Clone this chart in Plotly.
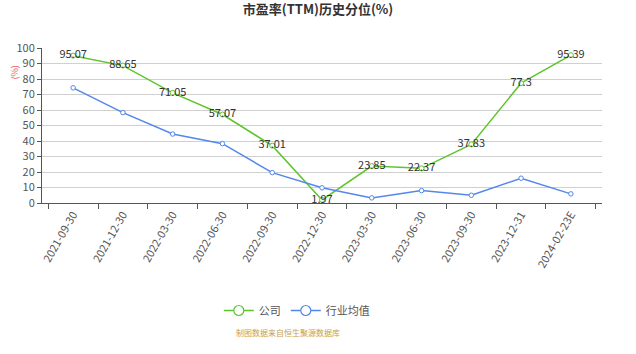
import plotly.graph_objects as go

categories = ["2021-09-30", "2021-12-30", "2022-03-30", "2022-06-30", "2022-09-30",
              "2022-12-30", "2023-03-30", "2023-06-30", "2023-09-30", "2023-12-31", "2024-02-23E"]
company = [95.07, 88.65, 71.05, 57.07, 37.01, 1.97, 23.85, 22.37, 37.83, 77.3, 95.39]
industry = [74.3, 58.3, 44.5, 38.3, 19.6, 9.8, 3.3, 8.0, 5.0, 16.0, 5.9]
company_labels = ["95.07", "88.65", "71.05", "57.07", "37.01", "1.97", "23.85", "22.37", "37.83", "77.3", "95.39"]
series_names = ["公司", "行业均值"]

GREEN = "#5ec52e"
BLUE = "#5387ec"
FONT = "Noto Sans CJK SC"

fig = go.Figure()
fig.add_trace(go.Scatter(
    x=categories, y=company, name=series_names[0], mode="lines+markers+text", showlegend=False,
    line=dict(color=GREEN, width=1.5),
    marker=dict(symbol="circle", size=5, color="white", line=dict(color=GREEN, width=1)),
    text=company_labels, textposition="middle center",
    textfont=dict(size=11, color="#333333", family=FONT),
))
fig.add_trace(go.Scatter(
    x=categories, y=industry, name=series_names[1], mode="lines+markers", showlegend=False,
    line=dict(color=BLUE, width=1.5),
    marker=dict(symbol="circle", size=4.5, color="white", line=dict(color=BLUE, width=1)),
))
# legend entries with larger icons
for nm, col in zip(series_names, [GREEN, BLUE]):
    fig.add_trace(go.Scatter(
        x=[None], y=[None], name=nm, mode="lines+markers",
        line=dict(color=col, width=1.5),
        marker=dict(symbol="circle", size=10, color="white", line=dict(color=col, width=1.2)),
    ))

fig.update_layout(
    width=636, height=354,
    margin=dict(l=42, r=34, t=48, b=151),
    paper_bgcolor="white", plot_bgcolor="white",
    font=dict(family=FONT, size=11, color="#666666"),
    title=dict(text="<b>市盈率(TTM)历史分位(%)</b>", x=0.5, xanchor="center", y=0.985, yanchor="top",
               font=dict(size=13, color="#333333", family=FONT)),
    showlegend=True,
    legend=dict(orientation="h", x=0.455, xanchor="center", y=-0.60, yanchor="top",
                font=dict(size=11, color="#555555", family=FONT), itemwidth=30),
    xaxis=dict(type="category", tickangle=-60, tickson="boundaries", ticks="outside", ticklen=5,
               tickcolor="#555555", showline=True, linecolor="#555555", linewidth=1,
               showgrid=False, tickfont=dict(size=11, color="#555555", family=FONT)),
    yaxis=dict(range=[0, 100], dtick=10, ticks="outside", ticklen=4, tickcolor="#555555",
               showline=True, linecolor="#555555", linewidth=1,
               showgrid=True, gridcolor="#d0d0d0", gridwidth=1, zeroline=False,
               tickfont=dict(size=11, color="#555555", family=FONT)),
    annotations=[
        dict(text="(%)", x=-0.05, xref="paper", xanchor="center", y=0.9, yref="paper",
             showarrow=False, textangle=-90, font=dict(size=9, color="#e86060", family=FONT)),
        dict(text="制图数据来自恒生聚源数据库", x=0.44, xref="paper", y=-0.835, yref="paper",
             xanchor="center", yanchor="middle", showarrow=False,
             font=dict(size=8, color="#c9a04a", family=FONT)),
    ],
)

fig.write_html("out.html")
